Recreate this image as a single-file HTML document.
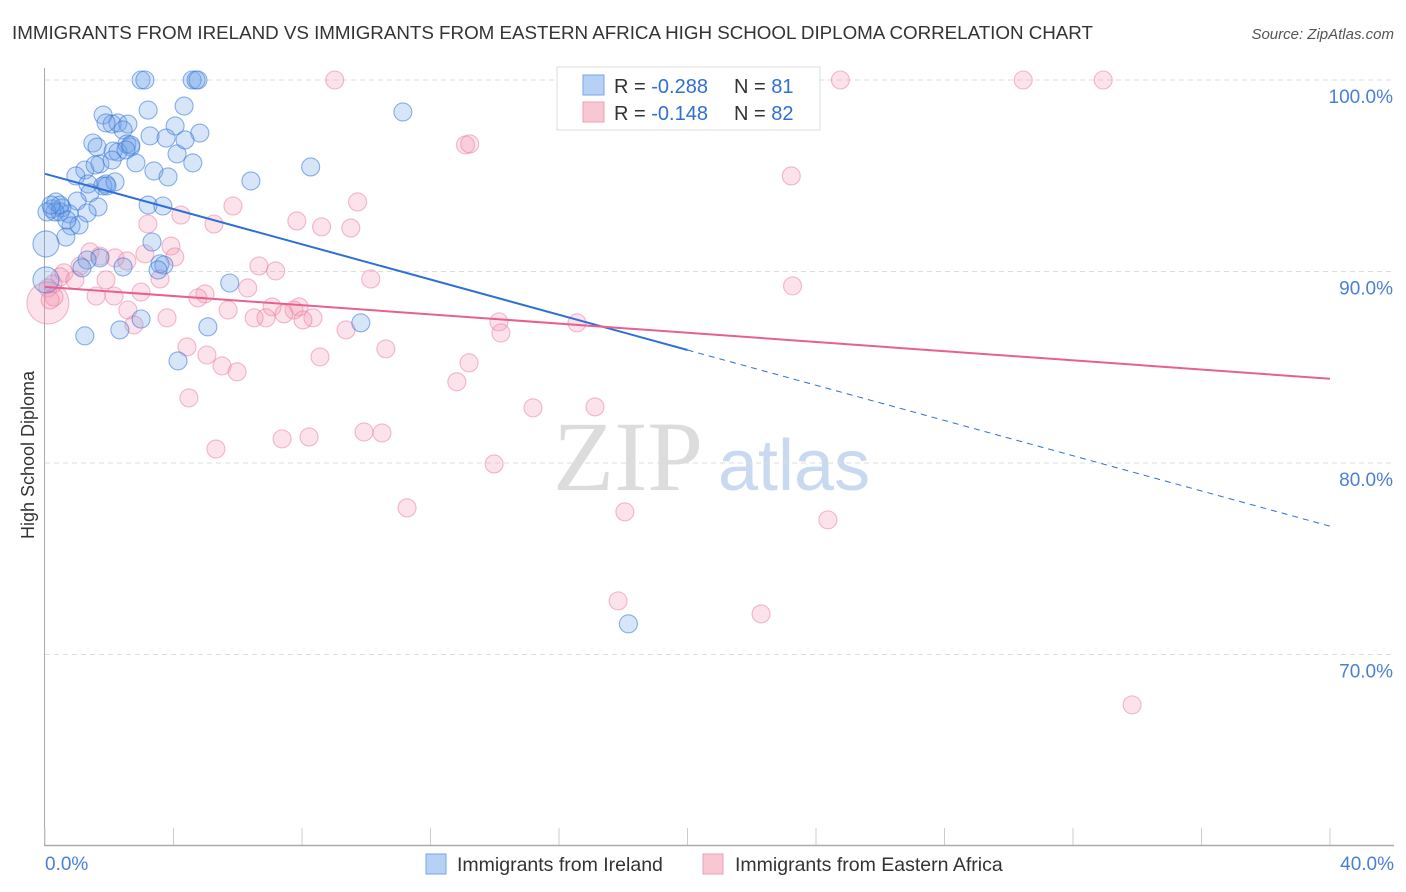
<!DOCTYPE html>
<html><head><meta charset="utf-8"><style>
body{margin:0;background:#fff;font-family:"Liberation Sans",sans-serif;}
svg{display:block}
</style></head><body>
<svg id="chart" width="1406" height="892">
<text x="12" y="39" font-size="18.8" fill="#333" textLength="1081">IMMIGRANTS FROM IRELAND VS IMMIGRANTS FROM EASTERN AFRICA HIGH SCHOOL DIPLOMA CORRELATION CHART</text>
<text x="1394" y="39" font-size="15" fill="#555" font-style="italic" text-anchor="end">Source: ZipAtlas.com</text>
<g><text x="553" y="490" font-size="100" font-family="Liberation Serif,serif" fill="#dcdcdc">ZIP</text><text x="718" y="490" font-size="72" fill="#c9d9f0">atlas</text></g>
<g id="grid"></g>
<g id="axes"></g>
<g id="pts"></g>
<g id="trend"></g>
<text transform="translate(34,455) rotate(-90)" font-size="18" fill="#333" text-anchor="middle">High School Diploma</text>
<text x="45" y="870" font-size="19" fill="#4a7fd8">0.0%</text>
<text x="1394" y="870" font-size="19" fill="#4a7fd8" text-anchor="end">40.0%</text>
<g>
<rect x="557" y="67" width="263" height="63" fill="#fff" stroke="#ddd"/>
<rect x="583" y="75" width="21" height="20" fill="#b7d0f5" stroke="#7aa4e6"/>
<rect x="583" y="102" width="21" height="20" fill="#f9c6d4" stroke="#eda0b6"/>
<text x="614" y="93" font-size="20" fill="#333">R = <tspan fill="#2f6fd6">-0.288</tspan></text>
<text x="734" y="93" font-size="20" fill="#333">N = <tspan fill="#2f6fd6"> 81</tspan></text>
<text x="614" y="120" font-size="20" fill="#333">R = <tspan fill="#2f6fd6"> -0.148</tspan></text>
<text x="734" y="120" font-size="20" fill="#333">N = <tspan fill="#2f6fd6">82</tspan></text>
</g>
<g>
<rect x="426" y="854" width="20" height="20" fill="#b7d0f5" stroke="#7aa4e6"/>
<text x="457" y="871" font-size="19.5" fill="#333">Immigrants from Ireland</text>
<rect x="703" y="854" width="20" height="20" fill="#f9c6d4" stroke="#eda0b6"/>
<text x="735" y="871" font-size="19.5" fill="#333">Immigrants from Eastern Africa</text>
</g>
</svg>
<script>
const yTicks=[100,90,80,70];
const yTickLabels=["100.0%","90.0%","80.0%","70.0%"];
const xTicks=[0,4,8,12,16,20,24,28,32,36,40];
const irelandX=[2.99,3.11,4.58,4.70,4.76,11.14,4.33,3.21,1.81,2.09,2.27,2.58,2.43,4.05,3.27,3.77,4.82,1.49,1.62,2.55,2.67,2.12,2.27,4.11,2.83,1.71,1.24,4.60,8.27,3.39,0.96,3.83,6.41,1.34,1.90,1.80,2.18,1.40,1.00,1.65,0.34,0.22,0.53,0.75,1.31,0.47,3.21,3.67,0.81,1.06,0.65,0.03,3.33,1.71,1.31,2.43,1.15,3.58,3.70,3.52,5.75,0.03,2.99,9.83,5.07,2.33,1.24,4.14,18.16,0.31,0.47,0.68,2.09,1.56,2.67,2.52,1.90,4.36,0.06,0.19,1.93];
const irelandY=[100,100,100,100,100,98.33,98.64,98.43,98.17,97.70,97.76,97.70,97.39,97.60,97.08,96.97,97.23,96.71,96.50,96.66,96.50,96.29,96.24,96.14,95.67,95.62,95.30,95.67,95.46,95.25,94.99,94.94,94.73,94.57,94.57,94.47,94.68,94.10,93.68,93.37,93.63,93.27,93.32,93.01,93.06,93.11,93.47,93.42,92.38,92.43,91.80,91.44,91.54,90.71,90.60,90.24,90.19,90.40,90.34,90.08,89.40,89.56,87.52,87.32,87.11,86.95,86.64,85.33,71.60,93.11,93.47,92.69,95.82,95.56,96.61,96.35,97.76,96.87,93.11,93.47,94.47];
const africaX=[9.02,24.76,30.45,32.94,13.09,13.22,23.23,5.85,9.73,4.23,7.84,8.61,9.52,5.26,3.20,3.92,1.40,1.71,3.11,4.04,2.18,2.55,6.66,7.18,0.59,1.09,0.47,0.93,1.90,10.14,0.25,0.09,3.58,6.31,23.27,2.99,1.59,2.15,4.98,4.76,2.58,5.70,7.07,7.91,7.75,6.51,6.88,7.44,8.34,8.03,3.80,2.77,9.37,14.13,14.19,16.56,4.42,5.04,10.61,8.56,5.51,5.98,13.20,12.82,4.48,15.19,17.12,9.93,10.49,7.38,8.22,5.32,13.98,11.27,18.05,24.37,17.84,22.29,33.84,0.09,0.28,0.16];
const africaY=[100,100,100,100,96.61,96.66,94.99,93.42,93.63,92.95,92.64,92.33,92.27,92.48,92.48,91.33,91.02,90.81,90.92,90.76,90.71,90.55,90.29,90.03,89.93,90.29,89.72,89.56,89.56,89.61,89.35,89.14,89.61,89.14,89.25,88.93,88.72,88.72,88.83,88.62,87.99,87.99,88.15,88.15,87.99,87.58,87.58,87.79,87.58,87.47,87.58,87.21,86.95,87.37,86.79,87.32,86.06,85.64,85.96,85.54,85.07,84.76,85.23,84.24,83.40,82.88,82.93,81.62,81.57,81.26,81.36,80.73,79.95,77.66,77.45,77.03,72.80,72.12,67.37,88.36,88.67,88.51];
const irelandBigIdx=[51,61];
const africaBigIdx=[79];
const irelandTrend=[95.1,85.9,76.7]; // at x=0,20,40
const africaTrend=[89.2,84.4];       // at x=0,40
const NS="http://www.w3.org/2000/svg";
const sx=v=>45+v*32.125;
const sy=v=>80+(100-v)*19.15;
function mk(tag,attrs,parent){const e=document.createElementNS(NS,tag);for(const k in attrs)e.setAttribute(k,attrs[k]);parent.appendChild(e);return e;}
const grid=document.getElementById('grid'),axes=document.getElementById('axes'),pts=document.getElementById('pts'),trend=document.getElementById('trend');
yTicks.forEach((t,i)=>{
 const l=mk('line',{x1:45,x2:1394,y1:sy(t),y2:sy(t),stroke:'#ddd','stroke-dasharray':'5,4'},grid);
 
 
 const tx=mk('text',{x:1393,y:sy(t)+23,'font-size':19,fill:'#4a7fd8','text-anchor':'end'},grid);
 tx.textContent=yTickLabels[i];
 
 
});
const ya=mk('line',{x1:44.5,x2:44.5,y1:68,y2:846,stroke:'#aaa'},axes);


const xa=mk('line',{x1:44,x2:1394,y1:845.5,y2:845.5,stroke:'#aaa','stroke-width':1.5},axes);


xTicks.forEach(t=>{
 const l=mk('line',{x1:sx(t),x2:sx(t),y1:828,y2:845,stroke:'#ccc'},axes);
 
 
});
function drawPts(X,Y,big,bigR,fill,stroke,name){
 X.forEach((x,i)=>{
  const c=mk('circle',{cx:sx(x),cy:sy(Y[i]),r:big.includes(i)?bigR:9,fill:fill,stroke:stroke,'stroke-width':1.1},pts);
  
  
 });
}
drawPts(africaX,africaY,africaBigIdx,21,'rgba(244,150,178,0.28)','rgba(232,120,155,0.5)','africa-point');
drawPts(irelandX,irelandY,irelandBigIdx,13,'rgba(110,160,235,0.28)','rgba(50,115,215,0.55)','ireland-point');
const b1=mk('line',{x1:sx(0),y1:sy(irelandTrend[0]),x2:sx(20),y2:sy(irelandTrend[1]),stroke:'#2f6fd6','stroke-width':2},trend);


const b2=mk('line',{x1:sx(20),y1:sy(irelandTrend[1]),x2:sx(40),y2:sy(irelandTrend[2]),stroke:'#2f6fd6','stroke-width':1,'stroke-dasharray':'6,5'},trend);


const p1=mk('line',{x1:sx(0),y1:sy(africaTrend[0]),x2:sx(40),y2:sy(africaTrend[1]),stroke:'#e8608c','stroke-width':2},trend);


</script>
</body></html>
